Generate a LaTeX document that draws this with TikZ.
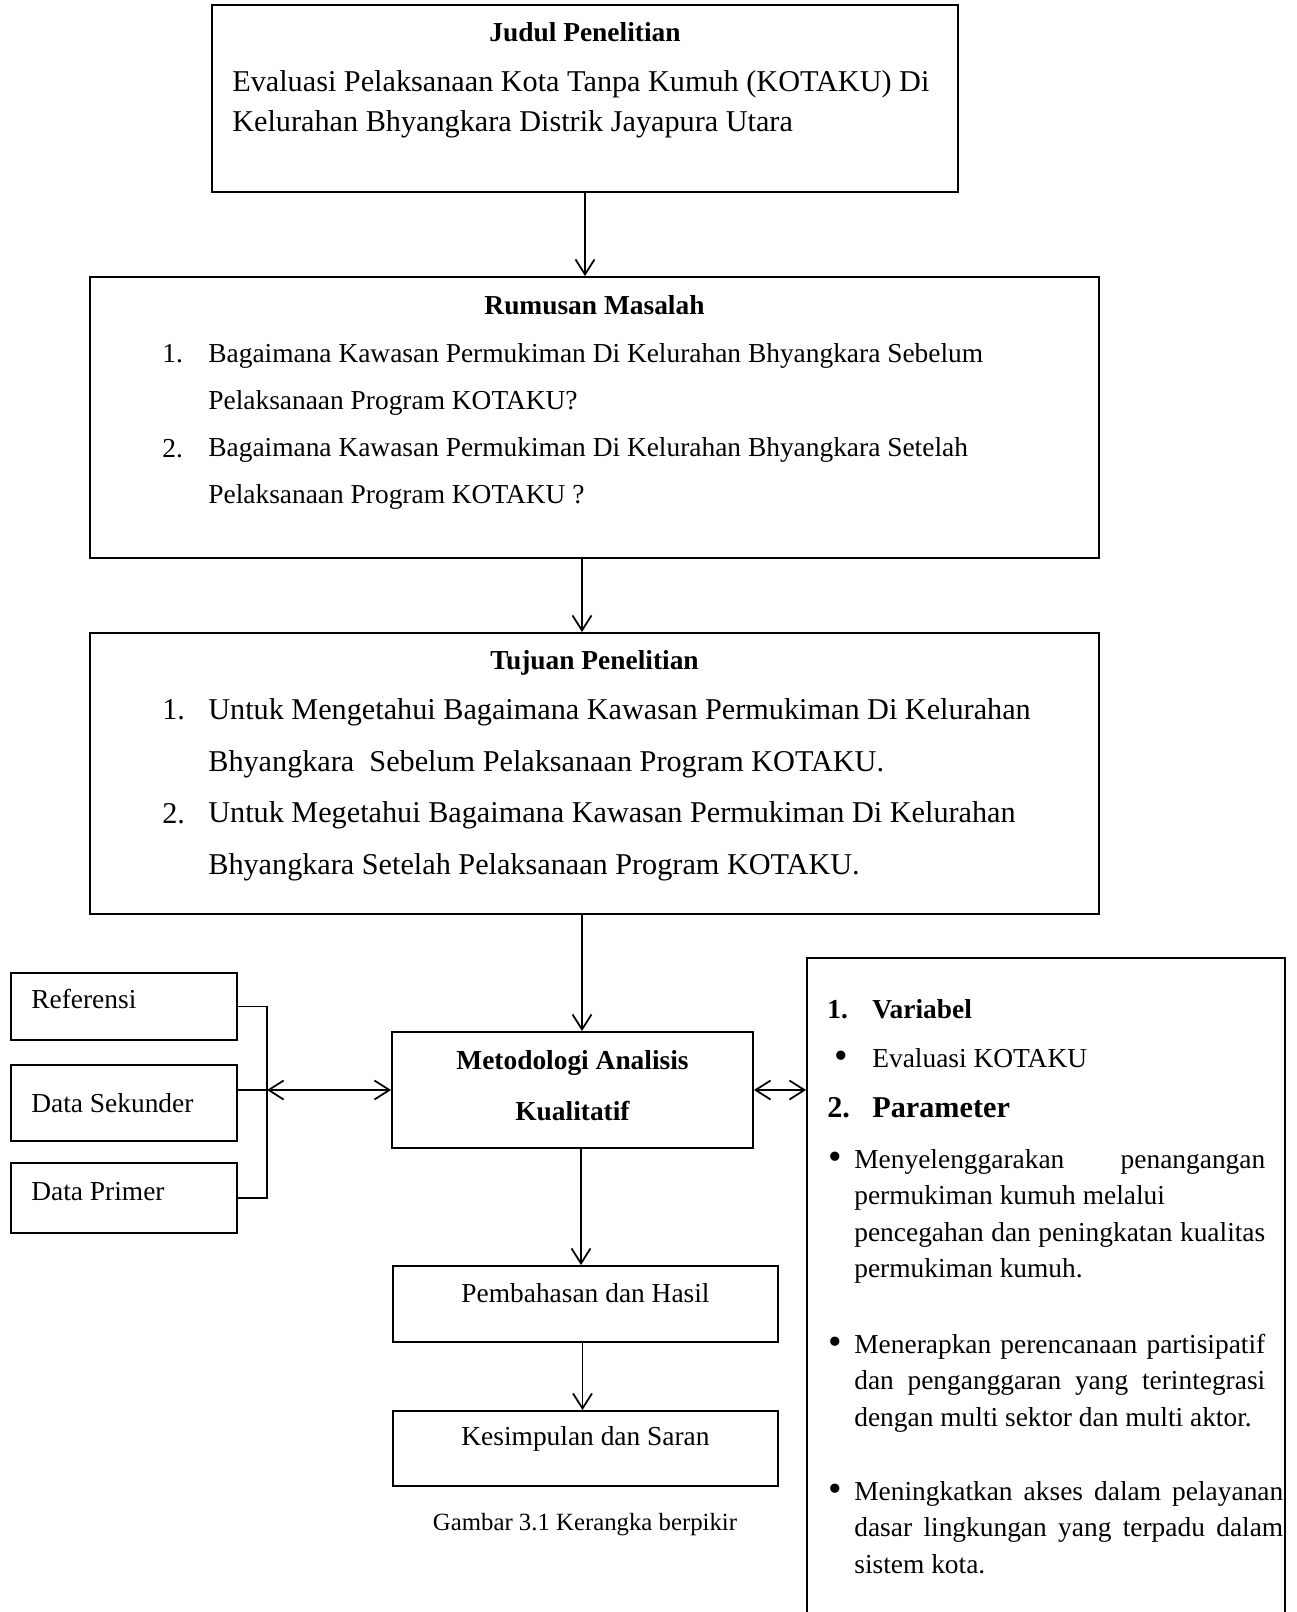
\documentclass[tikz,border=0pt]{standalone}
\usepackage{fontspec}
\setmainfont{Liberation Serif}
\usetikzlibrary{
  arrows.meta,
  positioning,
  calc
}

\begin{document}
\begin{tikzpicture}[
  x=0.02cm, y=-0.02cm,
  box/.style={draw, line width=1.1pt, inner sep=0pt},
  link/.style={line width=1pt},
  >={Straight Barb[length=0.3cm, width=0.38cm, line width=1pt]},
  body/.style={inner sep=0pt, font=\fontsize{15.6}{26.6}\selectfont},
  large/.style={inner sep=0pt, font=\fontsize{17.2}{29.5}\selectfont},
  head/.style={inner sep=0pt, font=\bfseries\fontsize{15.6}{19}\selectfont},
  dot/.style={inner sep=0pt, font=\fontsize{22}{22}\selectfont},
  para/.style={inner sep=0pt, align=justify, text width=8.22cm, font=\fontsize{15.6}{20.8}\selectfont},
]
  \clip (0,0) rectangle (1296,1612);

  % Judul
  \node[box, minimum width=14.92cm, minimum height=3.74cm] (judul) at (585,98.5) {};
  \node[head, anchor=base] at (585,42) {Judul Penelitian};
  \node[large, anchor=base west, align=left, font=\fontsize{17.2}{23.3}\selectfont] at (232,132)
    {Evaluasi Pelaksanaan Kota Tanpa Kumuh (KOTAKU) Di\\Kelurahan Bhyangkara Distrik Jayapura Utara};

  % Rumusan masalah
  \node[box, minimum width=20.18cm, minimum height=5.62cm] (rumusan) at (594.5,417.5) {};
  \node[head, anchor=base] at (594.5,314) {Rumusan Masalah};
  \node[body, anchor=base west] at (162,362) {1.};
  \node[body, anchor=base west, align=left] at (208,409)
    {Bagaimana Kawasan Permukiman Di Kelurahan Bhyangkara Sebelum\\Pelaksanaan Program KOTAKU?};
  \node[body, anchor=base west] at (162,457) {2.};
  \node[body, anchor=base west, align=left] at (208,503)
    {Bagaimana Kawasan Permukiman Di Kelurahan Bhyangkara Setelah\\Pelaksanaan Program KOTAKU ?};

  % Tujuan penelitian
  \node[box, minimum width=20.18cm, minimum height=5.62cm] (tujuan) at (594.5,773.5) {};
  \node[head, anchor=base] at (594.5,669) {Tujuan Penelitian};
  \node[large, anchor=base west] at (162,719) {1.};
  \node[large, anchor=base west, align=left] at (208,771)
    {Untuk Mengetahui Bagaimana Kawasan Permukiman Di Kelurahan\\Bhyangkara\ \ Sebelum Pelaksanaan Program KOTAKU.};
  \node[large, anchor=base west] at (162,823) {2.};
  \node[large, anchor=base west, align=left] at (208,874)
    {Untuk Megetahui Bagaimana Kawasan Permukiman Di Kelurahan\\Bhyangkara Setelah Pelaksanaan Program KOTAKU.};

  % Metodologi
  \node[box, minimum width=7.22cm, minimum height=2.32cm] (metode) at (572.5,1090) {};
  \node[head, anchor=base] at (572.5,1069) {Metodologi Analisis};
  \node[head, anchor=base] at (572.5,1120) {Kualitatif};

  % Sumber data
  \node[box, minimum width=4.52cm, minimum height=1.34cm] (ref) at (124,1006.5) {};
  \node[body, anchor=base west] at (31,1008) {Referensi};
  \node[box, minimum width=4.52cm, minimum height=1.52cm] (sekunder) at (124,1103) {};
  \node[body, anchor=base west] at (31,1112) {Data Sekunder};
  \node[box, minimum width=4.52cm, minimum height=1.4cm] (primer) at (124,1198) {};
  \node[body, anchor=base west] at (31,1200) {Data Primer};
  \coordinate (join) at (267,1090);

  % Hasil
  \node[box, minimum width=7.7cm, minimum height=1.52cm] (bahas) at (585.5,1304) {};
  \node[body, anchor=base] at (585.5,1302) {Pembahasan dan Hasil};
  \node[box, minimum width=7.7cm, minimum height=1.5cm] (simpul) at (585.5,1448.5) {};
  \node[body, anchor=base] at (585.5,1445) {Kesimpulan dan Saran};
  \node[inner sep=0pt, anchor=base, font=\fontsize{14.1}{17}\selectfont] at (585,1530) {Gambar 3.1 Kerangka berpikir};

  % Variabel dan parameter
  \node[box, minimum width=9.56cm, minimum height=13.64cm] (param) at (1046,1299) {};
  \node[head, anchor=base west] at (827,1018) {1.};
  \node[head, anchor=base west] at (872,1018) {Variabel};
  \node[dot, anchor=base] at (841,1068) {\textbullet};
  \node[body, anchor=base west] at (872,1067) {Evaluasi KOTAKU};
  \node[head, anchor=base west, font=\bfseries\fontsize{17.2}{20}\selectfont] at (827,1117) {2.};
  \node[head, anchor=base west, font=\bfseries\fontsize{17.2}{20}\selectfont] at (872,1117) {Parameter};

  \node[dot, anchor=base] at (835,1169) {\textbullet};
  \node[para, anchor=base west] at (854,1168)
    {Menyelenggarakan penangangan\linebreak permukiman kumuh melalui\newline pencegahan dan peningkatan kualitas\linebreak permukiman kumuh.};
  \node[dot, anchor=base] at (835,1354) {\textbullet};
  \node[para, anchor=base west] at (854,1353)
    {Menerapkan perencanaan partisipatif\linebreak dan penganggaran yang terintegrasi\linebreak dengan multi sektor dan multi aktor.};
  \node[dot, anchor=base] at (835,1501) {\textbullet};
  \node[para, anchor=base west, text width=8.58cm] at (854,1500)
    {Meningkatkan akses dalam pelayanan\linebreak dasar lingkungan yang terpadu dalam\linebreak sistem kota.};

  % Arrows
  \draw[link, ->] (judul.south) -- (judul.south |- rumusan.north);
  \draw[link, ->] ([xshift=-0.25cm]rumusan.south) -- ([xshift=-0.25cm]tujuan.north);
  \draw[link, ->] ([xshift=-0.25cm]tujuan.south) -- ([xshift=-0.25cm]tujuan.south |- metode.north);
  \draw[link, ->] ([xshift=-0.09cm]bahas.north |- metode.south) -- ([xshift=-0.09cm]bahas.north);
  \draw[link, ->] ([xshift=-0.06cm]bahas.south) -- ([xshift=-0.06cm]simpul.north);

  \draw[link] (ref.east) -| (join) |- (primer.east);
  \draw[link] (join -| sekunder.east) -- (join);
  \draw[link, <->] (join) -- (metode.west);
  \draw[link, <->] (metode.east) -- (param.west |- metode.east);
\end{tikzpicture}
\end{document}
